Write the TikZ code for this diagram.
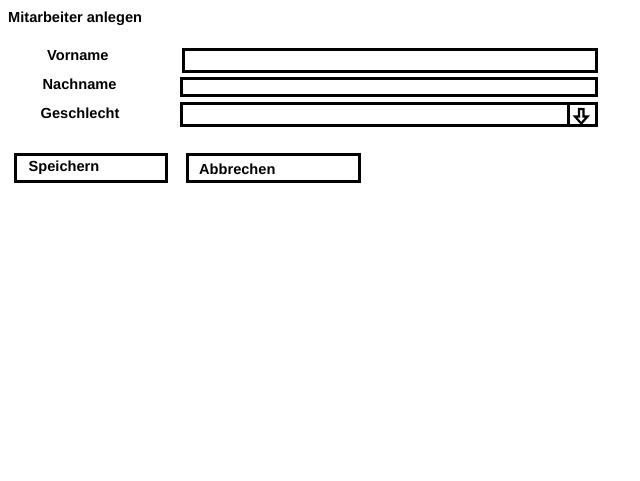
\documentclass[tikz,border=0pt]{standalone}
\usepackage{fontspec}
\setmainfont{Liberation Sans}
\usepackage{tikz}
\usetikzlibrary{positioning}

\begin{document}
\begin{tikzpicture}[x=1pt,y=-1pt,
  feld/.style={draw,line width=3pt,inner sep=0pt,anchor=north west},
  beschr/.style={inner sep=0pt,anchor=base west,font=\fontsize{14.6}{16}\selectfont\bfseries}]
\useasboundingbox (0,0) rectangle (640,480);
% Titel
\node[beschr] (titel) at (8,22) {Mitarbeiter anlegen};
% Beschriftungen
\node[beschr] (lvorname) at (47,60.5) {Vorname};
\node[beschr] (lnachname) at (42.5,89) {Nachname};
\node[beschr] (lgeschlecht) at (40.5,118) {Geschlecht};
% Eingabefelder
\node[feld,minimum width=413pt,minimum height=22pt] (fvorname) at (182,48) {};
\node[feld,minimum width=415pt,minimum height=17pt] (fnachname) at (180,77) {};
\node[feld,minimum width=415pt,minimum height=22pt] (fgeschlecht) at (180,102) {};
\node[feld,minimum width=28pt,minimum height=22pt] (pfeilbox) at (567,102) {};
\draw[line width=2.2pt,line join=miter]
  (579,109) -- (583.5,109) -- (583.5,116.5) -- (587.5,116.5) -- (581.25,123.5)
  -- (575,116.5) -- (579,116.5) -- cycle;
% Schaltflaechen
\node[feld,minimum width=151pt,minimum height=27pt] (bspeichern) at (13.5,152.5) {};
\node[feld,minimum width=172pt,minimum height=27pt] (babbrechen) at (185.5,152.5) {};
\node[beschr] (tspeichern) at (28.5,171.5) {Speichern};
\node[beschr] (tabbrechen) at (199,174) {Abbrechen};
\end{tikzpicture}
\end{document}
